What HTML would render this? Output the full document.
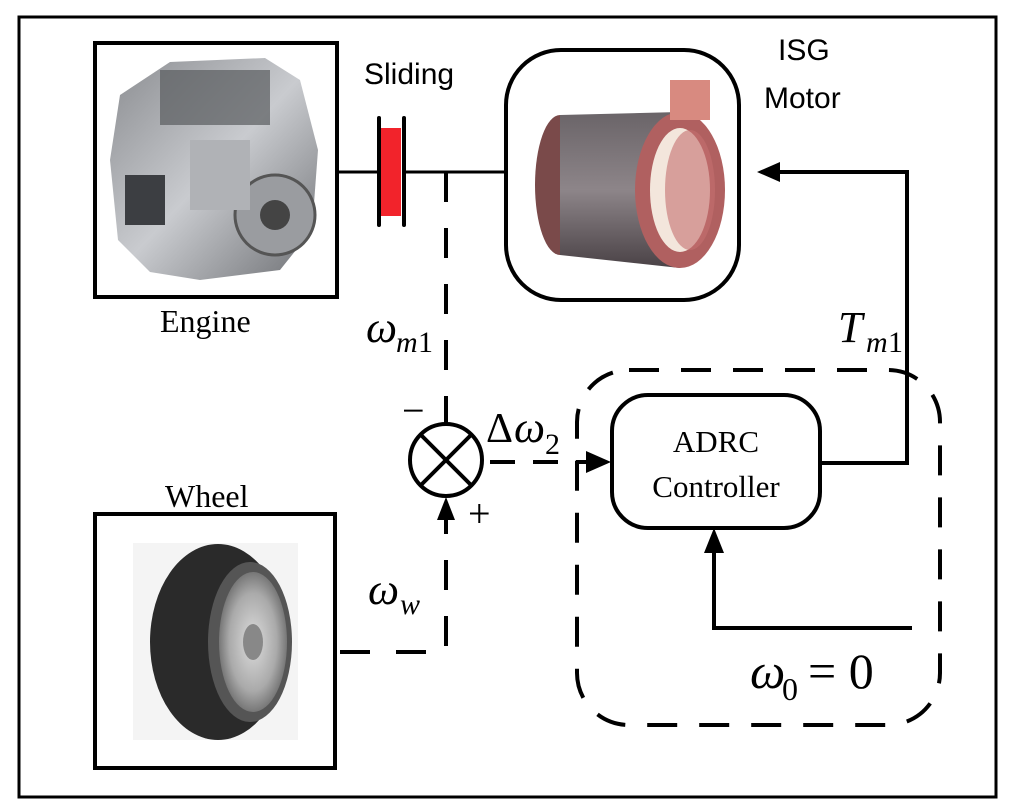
<!DOCTYPE html>
<html><head><style>
html,body{margin:0;padding:0;background:#fff;}
svg{display:block;}
text{font-family:"Liberation Serif",serif;fill:#000;}
.s{font-family:"Liberation Sans",sans-serif;}
</style></head><body>
<svg width="1010" height="805" viewBox="0 0 1010 805" xmlns="http://www.w3.org/2000/svg">
<defs>
<radialGradient id="rim" cx="0.5" cy="0.5" r="0.5"><stop offset="0" stop-color="#ddd"/><stop offset="0.7" stop-color="#aaa"/><stop offset="1" stop-color="#777"/></radialGradient>
<linearGradient id="eng" x1="0" y1="0" x2="1" y2="1"><stop offset="0" stop-color="#8a8c90"/><stop offset="0.5" stop-color="#c9cbcf"/><stop offset="1" stop-color="#6d6f73"/></linearGradient>
<linearGradient id="mot" x1="0" y1="0" x2="0" y2="1"><stop offset="0" stop-color="#6a6468"/><stop offset="0.5" stop-color="#8d8589"/><stop offset="1" stop-color="#4a4246"/></linearGradient>
</defs>
<rect x="19" y="17" width="977" height="780" fill="none" stroke="#000" stroke-width="3"/>

<!-- Engine -->
<rect x="95" y="43" width="242" height="254" fill="#fff" stroke="#000" stroke-width="4"/>
<g>
<path d="M120 95 L170 62 L265 58 L300 80 L318 150 L312 230 L280 270 L200 280 L150 272 L118 240 L110 160 Z" fill="url(#eng)"/>
<rect x="160" y="70" width="110" height="55" fill="#5a5c60" opacity="0.7"/>
<circle cx="275" cy="215" r="40" fill="#9a9ca0" stroke="#555" stroke-width="3"/>
<circle cx="275" cy="215" r="15" fill="#444"/>
<rect x="125" y="175" width="40" height="50" fill="#3c3e42"/>
<rect x="190" y="140" width="60" height="70" fill="#b0b2b6"/>
</g>
<text x="160" y="332" font-size="32">Engine</text>

<!-- Sliding clutch -->
<line x1="337" y1="172" x2="379" y2="172" stroke="#000" stroke-width="3"/>
<rect x="381" y="128" width="20" height="88" fill="#f2232b"/>
<line x1="379" y1="118" x2="379" y2="225" stroke="#000" stroke-width="4" stroke-linecap="round"/>
<line x1="404" y1="118" x2="404" y2="225" stroke="#000" stroke-width="4" stroke-linecap="round"/>
<line x1="404" y1="172" x2="506" y2="172" stroke="#000" stroke-width="3"/>
<text x="364" y="84" font-size="30" class="s">Sliding</text>

<!-- ISG Motor -->
<rect x="506" y="50" width="233" height="250" rx="55" fill="#fff" stroke="#000" stroke-width="4"/>
<g>
<ellipse cx="560" cy="185" rx="25" ry="70" fill="#7a4a4a"/>
<path d="M560 115 L680 112 L680 268 L560 255 Z" fill="url(#mot)"/>
<ellipse cx="680" cy="190" rx="45" ry="78" fill="#b06060"/>
<ellipse cx="680" cy="190" rx="30" ry="62" fill="#f3e6dc"/>
<ellipse cx="690" cy="190" rx="25" ry="60" fill="#c47070" opacity="0.6"/>
<rect x="670" y="80" width="40" height="40" fill="#d88a80"/>
</g>
<text x="778" y="60" font-size="30" class="s">ISG</text>
<text x="764" y="108" font-size="30" class="s">Motor</text>

<!-- dashed omega_m1 -->
<line x1="446" y1="172" x2="446" y2="424" stroke="#000" stroke-width="4" stroke-dasharray="30 26"/>
<text x="366" y="342" font-size="44" font-style="italic">ω</text>
<text x="396" y="352" font-size="30" font-style="italic">m</text>
<text x="418" y="352" font-size="30">1</text>

<!-- Summing junction -->
<circle cx="446" cy="460" r="36" fill="#fff" stroke="#000" stroke-width="4"/>
<line x1="421" y1="435" x2="471" y2="485" stroke="#000" stroke-width="4"/>
<line x1="471" y1="435" x2="421" y2="485" stroke="#000" stroke-width="4"/>
<text x="402" y="424" font-size="40">−</text>
<text x="468" y="527" font-size="40">+</text>

<!-- Wheel -->
<rect x="95" y="514" width="240" height="254" fill="#fff" stroke="#000" stroke-width="4"/>
<rect x="133" y="543" width="165" height="197" fill="#f4f4f4"/>
<ellipse cx="218" cy="642" rx="68" ry="98" fill="#2a2a2a"/>
<ellipse cx="250" cy="642" rx="42" ry="80" fill="#555"/>
<ellipse cx="253" cy="642" rx="34" ry="70" fill="url(#rim)"/>
<ellipse cx="253" cy="642" rx="10" ry="18" fill="#888"/>
<text x="165" y="507" font-size="32">Wheel</text>

<!-- wheel to sum -->
<path d="M340 652 L446 652 L446 510" fill="none" stroke="#000" stroke-width="4" stroke-dasharray="30 26"/>
<polygon points="446,497 437,520 455,520" fill="#000"/>
<text x="368" y="604" font-size="44" font-style="italic">ω</text>
<text x="400" y="614" font-size="30" font-style="italic">w</text>

<!-- delta omega -->
<line x1="490" y1="462" x2="592" y2="462" stroke="#000" stroke-width="4" stroke-dasharray="25 18"/>
<polygon points="611,462 586,451 586,473" fill="#000"/>
<text x="486" y="442" font-size="42">Δ</text>
<text x="514" y="442" font-size="44" font-style="italic">ω</text>
<text x="545" y="454" font-size="30">2</text>

<!-- dashed controller region -->
<rect x="577" y="370" width="363" height="355" rx="52" fill="none" stroke="#000" stroke-width="4" stroke-dasharray="30 22"/>

<!-- ADRC -->
<rect x="612" y="395" width="208" height="133" rx="36" fill="#fff" stroke="#000" stroke-width="4"/>
<text x="716" y="452" font-size="31" text-anchor="middle">ADRC</text>
<text x="716" y="497" font-size="31" text-anchor="middle">Controller</text>

<!-- output to motor -->
<path d="M820 463 L907 463 L907 172 L775 172" fill="none" stroke="#000" stroke-width="4"/>
<polygon points="757,172 780,162 780,182" fill="#000"/>
<text x="838" y="342" font-size="44" font-style="italic">T</text>
<text x="866" y="352" font-size="30" font-style="italic">m</text>
<text x="888" y="352" font-size="30">1</text>

<!-- reference feedback -->
<path d="M912 628 L714 628 L714 545" fill="none" stroke="#000" stroke-width="4"/>
<polygon points="714,528 704,553 724,553" fill="#000"/>
<text x="750" y="688" font-size="50" font-style="italic">ω</text>
<text x="782" y="700" font-size="32">0</text>
<text x="808" y="688" font-size="50">= 0</text>
</svg>
</body></html>
